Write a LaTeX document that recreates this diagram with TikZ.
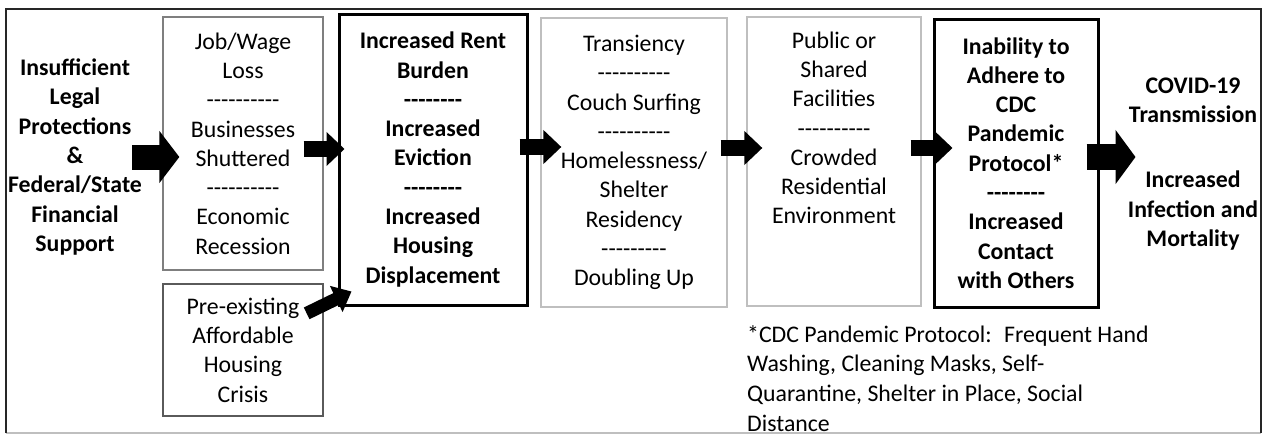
\documentclass[tikz,border=0pt]{standalone}
\usepackage{fontspec}
\setmainfont{Carlito}[Ligatures=TeXOff]
\usetikzlibrary{calc,arrows.meta}
\definecolor{midgray}{HTML}{7F7F7F}
\definecolor{darkgray}{HTML}{5A5A5A}
\definecolor{lightgray}{HTML}{BFBFBF}
\newcommand{\txtsize}{\fontsize{23.8}{29.3}\selectfont}

\begin{document}
\begin{tikzpicture}[x=1pt,y=-1pt,
	box/.style={draw, align=center, inner sep=0pt, font=\txtsize, line width=1.3pt},
	heavybox/.style={box, line width=3pt, font=\txtsize\bfseries},
	plain/.style={align=center, inner sep=0pt, font=\txtsize\bfseries},
	fat/.style={line width=#1, -{Triangle[length=20pt,width=2.05*#1]}},
	slim/.style={line width=16pt, -{Triangle[length=18pt,width=33pt]}}]
	\useasboundingbox (0,0) rectangle (1268,434);
	\fill[white] (0,0) rectangle (1268,434);
	\draw[lightgray, line width=1.5pt] (6,433) -- (1261,433);
	\draw[black!85, line width=1.8pt] (6,433) -- (6,9) -- (1261,9) -- (1261,433);

	\node[plain] (legal) at (75,157) {Insufficient\\Legal\\Protections\\\&\\Federal/State\\Financial\\Support};
	\node[box, draw=midgray, minimum width=160pt, minimum height=253pt] (job) at (243,143.5)
		{Job/Wage\\Loss\\----------\\Businesses\\Shuttered\\----------\\Economic\\Recession};
	\node[box, draw=darkgray, minimum width=160pt, minimum height=132pt] (crisis) at (243,350)
		{Pre-existing\\Affordable\\Housing\\Crisis};
	\node[heavybox, minimum width=188pt, minimum height=291pt] (rent) at (433,159.5)
		{Increased Rent\\Burden\\--------\\Increased\\Eviction\\--------\\Increased\\Housing\\Displacement};
	\node[box, draw=lightgray, minimum width=186pt, minimum height=289pt] (trans) at (634,162.5)
		{Transiency\\----------\\Couch Surfing\\----------\\Homelessness/\\Shelter\\Residency\\---------\\Doubling Up};
	\node[box, draw=lightgray, minimum width=174pt, minimum height=289pt] (public) at (834,161.5)
		{Public or\\Shared\\Facilities\\----------\\Crowded\\Residential\\Environment\\[29.3pt]\strut};
	\node[heavybox, minimum width=164pt, minimum height=288pt] (inab) at (1016,163)
		{Inability to\\Adhere to\\CDC\\Pandemic\\Protocol*\\--------\\Increased\\Contact\\with Others};
	\node[plain] (outcome) at (1193,164)
		{COVID-19\\Transmission\\[36pt]Increased\\Infection and\\Mortality};
	\node[align=left, inner sep=0pt, font=\fontsize{23.8}{29.6}\selectfont, anchor=base west] (note) at (747,431)
		{*CDC Pandemic Protocol:~ Frequent Hand\\Washing, Cleaning Masks, Self-\\Quarantine, Shelter in Place, Social\\Distance};

	\draw[fat=25pt] ([xshift=-10pt]legal.east) -- ($(job.west |- legal.east)+(17,0)$);
	\draw[slim] ($(job.east)+(-20,5.5)$) -- ($(rent.west)+(7,-10.5)$);
	\draw[slim] ($(rent.east)+(-9,-12.5)$) -- ($(trans.west)+(21,-15.5)$);
	\draw[slim] ($(trans.east)+(-7,-14.5)$) -- ($(public.west)+(16,-13.5)$);
	\draw[slim] ($(public.east)+(-11,-13.5)$) -- ($(inab.west)+(20,-15)$);
	\draw[fat=26pt] ($(inab.east)+(-13,-6)$) -- ($(inab.east)+(36,-6)$);
	\draw[line width=13pt, -{Triangle[length=17pt,width=28pt]}] ($(crisis.north east)+(-17,30)$) -- ($(rent.south west)+(14,-15)$);
\end{tikzpicture}
\end{document}
